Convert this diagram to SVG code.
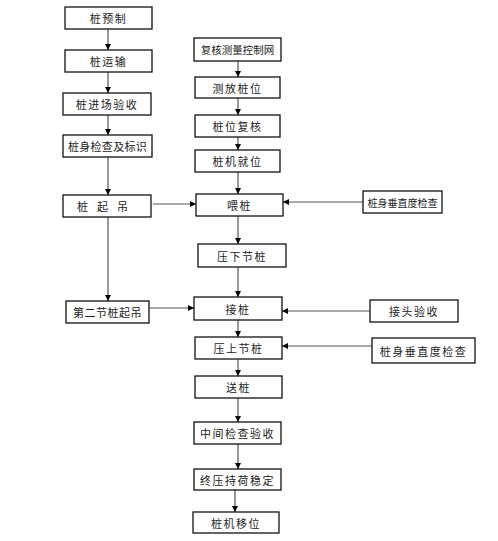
<svg xmlns="http://www.w3.org/2000/svg" width="498" height="541" viewBox="0 0 498 541">
<style>
.b{fill:#fff;stroke:#111;stroke-width:1.3}
.t{font-family:"Noto Sans CJK SC","Liberation Sans",sans-serif;font-size:11px;fill:#222;text-anchor:middle;dominant-baseline:central;letter-spacing:1.5px}
.c line{stroke:#555;stroke-width:1.2;marker-end:url(#a)}
</style>
<defs>
<marker id="a" viewBox="0 0 10 10" refX="10" refY="5" markerWidth="6" markerHeight="6" markerUnits="userSpaceOnUse" orient="auto">
<path d="M0,0 L10,5 L0,10 z" fill="#000"/>
</marker>
</defs>
<rect width="498" height="541" fill="#fff"/>
<g class="c" id="connectors">
<line x1="108" y1="29" x2="108" y2="50"/>
<line x1="108" y1="72" x2="108" y2="93"/>
<line x1="108" y1="115" x2="108" y2="135"/>
<line x1="108" y1="157" x2="108" y2="195"/>
<line x1="108" y1="217" x2="108" y2="301"/>
<line x1="153" y1="204" x2="196" y2="204"/>
<line x1="149" y1="308" x2="194" y2="308"/>
<line x1="238" y1="61" x2="238" y2="77"/>
<line x1="238" y1="98" x2="238" y2="115"/>
<line x1="238" y1="137" x2="238" y2="150"/>
<line x1="238" y1="172" x2="238" y2="194"/>
<line x1="238" y1="216" x2="238" y2="244"/>
<line x1="238" y1="267" x2="238" y2="297"/>
<line x1="238" y1="320" x2="238" y2="337"/>
<line x1="238" y1="359" x2="238" y2="376"/>
<line x1="238" y1="398" x2="238" y2="422"/>
<line x1="238" y1="444" x2="238" y2="469"/>
<line x1="235" y1="490" x2="235" y2="512"/>
<line x1="363" y1="202" x2="283" y2="202"/>
<line x1="370" y1="311" x2="282" y2="311"/>
<line x1="372" y1="346" x2="282" y2="346"/>
</g>
<g id="n1"><rect class="b" x="65" y="7" width="87" height="22"/><text class="t" x="108.5" y="18">桩预制</text></g>
<g id="n2"><rect class="b" x="65" y="50" width="87" height="22"/><text class="t" x="108.5" y="61">桩运输</text></g>
<g id="n3"><rect class="b" x="63" y="93" width="88" height="22"/><text class="t" x="107" y="104">桩进场验收</text></g>
<g id="n4"><rect class="b" x="63" y="135" width="89" height="22"/><text class="t" x="107.5" y="146" style="letter-spacing:0.3px">桩身检查及标识</text></g>
<g id="n5"><rect class="b" x="63" y="195" width="88" height="22"/><text class="t" x="107" y="206" style="letter-spacing:9px">桩起吊</text></g>
<g id="n6"><rect class="b" x="66" y="301" width="83" height="22"/><text class="t" x="107.5" y="312" style="letter-spacing:0.5px">第二节桩起吊</text></g>
<g id="r1"><rect class="b" x="194" y="38" width="87" height="23"/><text class="t" x="237.5" y="49.5" style="letter-spacing:0px;font-size:10.5px">复核测量控制网</text></g>
<g id="r2"><rect class="b" x="195" y="77" width="85" height="21"/><text class="t" x="237.5" y="87.5">测放桩位</text></g>
<g id="r3"><rect class="b" x="195" y="115" width="85" height="22"/><text class="t" x="237.5" y="126">桩位复核</text></g>
<g id="r4"><rect class="b" x="195" y="150" width="85" height="22"/><text class="t" x="237.5" y="161">桩机就位</text></g>
<g id="r5"><rect class="b" x="196" y="194" width="87" height="22"/><text class="t" x="239.5" y="205">喂桩</text></g>
<g id="r6"><rect class="b" x="198" y="244" width="88" height="23"/><text class="t" x="242" y="255.5">压下节桩</text></g>
<g id="r7"><rect class="b" x="194" y="297" width="88" height="23"/><text class="t" x="238" y="308.5">接桩</text></g>
<g id="r8"><rect class="b" x="195" y="337" width="87" height="22"/><text class="t" x="238.5" y="348">压上节桩</text></g>
<g id="r9"><rect class="b" x="195" y="376" width="87" height="22"/><text class="t" x="238.5" y="387">送桩</text></g>
<g id="r10"><rect class="b" x="194" y="422" width="87" height="22"/><text class="t" x="237.5" y="433">中间检查验收</text></g>
<g id="r11"><rect class="b" x="194" y="469" width="87" height="21"/><text class="t" x="237.5" y="479.5">终压持荷稳定</text></g>
<g id="r12"><rect class="b" x="193" y="512" width="86" height="21"/><text class="t" x="236" y="522.5">桩机移位</text></g>
<g id="s1"><rect class="b" x="363" y="191" width="79" height="22"/><text class="t" x="402.5" y="202" style="letter-spacing:0px;font-size:10px">桩身垂直度检查</text></g>
<g id="s2"><rect class="b" x="370" y="300" width="88" height="22"/><text class="t" x="414" y="311">接头验收</text></g>
<g id="s3"><rect class="b" x="372" y="338" width="103" height="25"/><text class="t" x="423.5" y="350.5">桩身垂直度检查</text></g>
</svg>
